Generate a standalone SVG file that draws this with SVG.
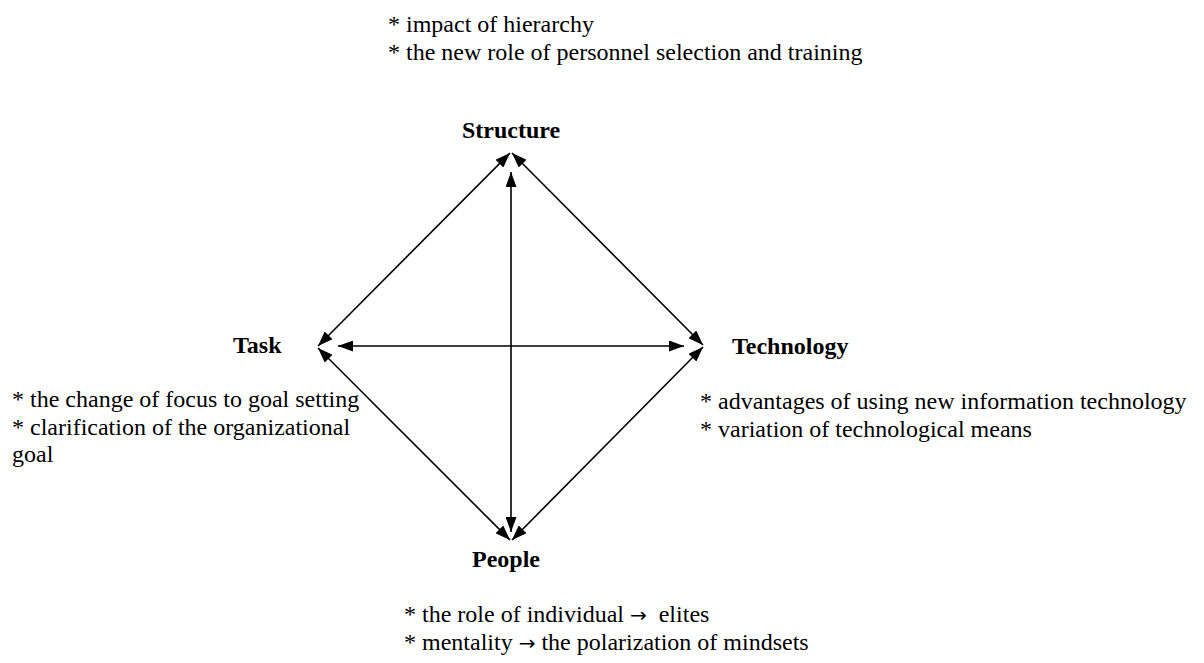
<svg xmlns="http://www.w3.org/2000/svg" width="1204" height="663" viewBox="0 0 1204 663">
<style>
.t{font-family:"Liberation Serif","Times New Roman",serif;font-size:24px;fill:#000}
.b{font-family:"Liberation Serif","Times New Roman",serif;font-size:24px;font-weight:bold;fill:#000}
.ar{font-family:"DejaVu Sans",sans-serif;font-size:20px}
.c{stroke:#000;stroke-width:1.6;fill:none}
</style>
<defs>
<marker id="ah" viewBox="0 0 15 11" refX="15" refY="5.5" markerWidth="15" markerHeight="11" markerUnits="userSpaceOnUse" orient="auto-start-reverse">
<path d="M0,0 L15,5.5 L0,11 Z" fill="#000"/>
</marker>
</defs>
<rect width="1204" height="663" fill="#fff"/>
<g id="connectors">
<line class="c" x1="318" y1="346" x2="510" y2="153" marker-start="url(#ah)" marker-end="url(#ah)"/>
<line class="c" x1="512" y1="153" x2="703" y2="345" marker-start="url(#ah)" marker-end="url(#ah)"/>
<line class="c" x1="318" y1="348" x2="510" y2="540" marker-start="url(#ah)" marker-end="url(#ah)"/>
<line class="c" x1="703" y1="347" x2="512" y2="540" marker-start="url(#ah)" marker-end="url(#ah)"/>
<line class="c" x1="511" y1="172" x2="511" y2="532" marker-start="url(#ah)" marker-end="url(#ah)"/>
<line class="c" x1="338" y1="346" x2="684" y2="346" marker-start="url(#ah)" marker-end="url(#ah)"/>
</g>
<g id="structure">
<text class="b" x="511" y="138" text-anchor="middle">Structure</text>
<text class="t" x="388" y="32">* impact of hierarchy</text>
<text class="t" x="388" y="60">* the new role of personnel selection and training</text>
</g>
<g id="task">
<text class="b" x="233" y="353">Task</text>
<text class="t" x="12" y="407">* the change of focus to goal setting</text>
<text class="t" x="12" y="435">* clarification of the organizational</text>
<text class="t" x="12" y="462">goal</text>
</g>
<g id="technology">
<text class="b" x="732" y="354">Technology</text>
<text class="t" x="700" y="409">* advantages of using new information technology</text>
<text class="t" x="700" y="437">* variation of technological means</text>
</g>
<g id="people">
<text class="b" x="506" y="567" text-anchor="middle">People</text>
<text class="t" x="404" y="622">* the role of individual <tspan class="ar">→</tspan> &#160;elites</text>
<text class="t" x="404" y="650">* mentality <tspan class="ar">→</tspan> the polarization of mindsets</text>
</g>
</svg>
